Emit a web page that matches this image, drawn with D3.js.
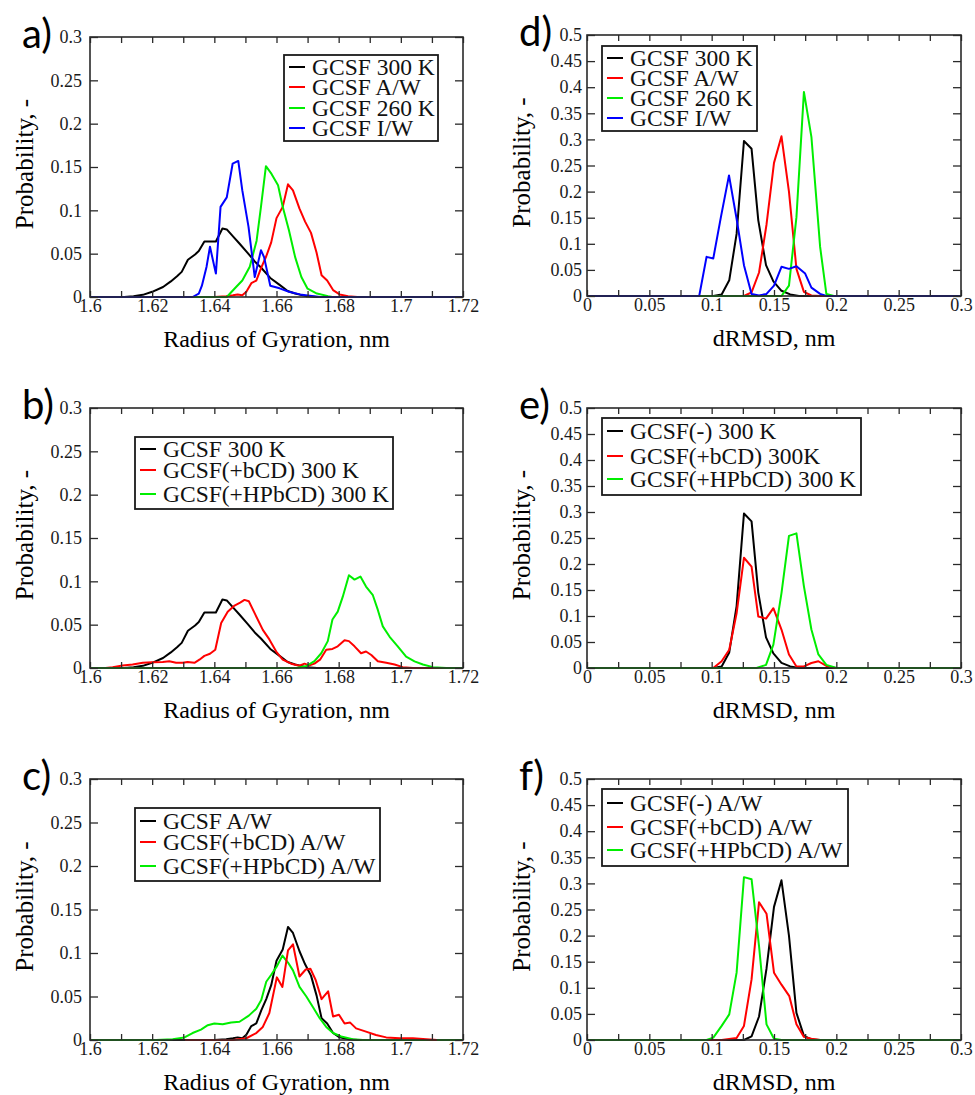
<!DOCTYPE html>
<html>
<head>
<meta charset="utf-8">
<script src="https://cdn.jsdelivr.net/npm/d3@7"></script>
<style>
  body { margin: 0; background: #fff; }
  svg { display: block; }
</style>
</head>
<body>
<svg id="fig" width="975" height="1095"></svg>
<script>
// ---- tick values / labels ----
var rgMajor = [1.6, 1.62, 1.64, 1.66, 1.68, 1.7, 1.72];
var rgMajorLabels = ["1.6", "1.62", "1.64", "1.66", "1.68", "1.7", "1.72"];
var rgMinor = [1.61, 1.63, 1.65, 1.67, 1.69, 1.71];
var rgYTicks = [0, 0.05, 0.1, 0.15, 0.2, 0.25, 0.3];
var rgYLabels = ["0", "0.05", "0.1", "0.15", "0.2", "0.25", "0.3"];

var drMajor = [0, 0.05, 0.1, 0.15, 0.2, 0.25, 0.3];
var drMajorLabels = ["0", "0.05", "0.1", "0.15", "0.2", "0.25", "0.3"];
var drMinor = [0.025, 0.075, 0.125, 0.175, 0.225, 0.275];
var drYTicks = [0, 0.05, 0.1, 0.15, 0.2, 0.25, 0.3, 0.35, 0.4, 0.45, 0.5];
var drYLabels = ["0", "0.05", "0.1", "0.15", "0.2", "0.25", "0.3", "0.35", "0.4", "0.45", "0.5"];

// ---- radius of gyration distributions [nm, probability] ----
var rg300 = [[1.6,0],[1.611,0],[1.614,0.001],[1.617,0.0025],[1.620,0.006],[1.6235,0.0115],[1.626,0.018],[1.628,0.024],[1.6295,0.029],[1.6315,0.043],[1.6338,0.049],[1.635,0.053],[1.6368,0.064],[1.6385,0.064],[1.6405,0.064],[1.6426,0.079],[1.644,0.078],[1.646,0.070],[1.648,0.062],[1.6507,0.051],[1.653,0.041],[1.655,0.034],[1.658,0.022],[1.661,0.014],[1.6636,0.007],[1.666,0.004],[1.6695,0.001],[1.673,0],[1.72,0]];
var rgAW = [[1.6,0],[1.64,0],[1.6438,0.001],[1.646,0.002],[1.6475,0.003],[1.649,0.002],[1.6503,0.006],[1.6519,0.016],[1.6535,0.019],[1.6551,0.034],[1.6567,0.047],[1.6583,0.063],[1.66,0.091],[1.662,0.104],[1.6637,0.13],[1.6653,0.123],[1.6674,0.102],[1.6692,0.087],[1.6711,0.074],[1.6729,0.051],[1.6745,0.025],[1.6763,0.019],[1.6782,0.008],[1.6803,0.003],[1.683,0.001],[1.686,0],[1.72,0]];
var rg260 = [[1.6,0],[1.644,0],[1.647,0.0115],[1.649,0.019],[1.6514,0.035],[1.6536,0.065],[1.655,0.104],[1.6566,0.151],[1.6584,0.142],[1.6605,0.129],[1.662,0.104],[1.664,0.077],[1.666,0.046],[1.668,0.023],[1.670,0.0096],[1.673,0.004],[1.6766,0.001],[1.678,0],[1.72,0]];
var rgIW = [[1.6,0],[1.633,0],[1.635,0.004],[1.636,0.013],[1.6375,0.035],[1.6386,0.058],[1.6405,0.027],[1.642,0.104],[1.644,0.115],[1.6459,0.154],[1.6477,0.157],[1.649,0.123],[1.651,0.081],[1.653,0.023],[1.655,0.054],[1.656,0.046],[1.658,0.013],[1.661,0.01],[1.664,0.006],[1.6675,0.003],[1.672,0.001],[1.674,0],[1.72,0]];
var rgBcd300 = [[1.6,0],[1.605,0],[1.6073,0.001],[1.6105,0.003],[1.6137,0.004],[1.617,0.006],[1.620,0.0065],[1.6234,0.007],[1.6255,0.0077],[1.6277,0.006],[1.6298,0.006],[1.6314,0.007],[1.6336,0.006],[1.6352,0.0096],[1.6368,0.014],[1.6386,0.0165],[1.6403,0.021],[1.6422,0.052],[1.6443,0.065],[1.6465,0.072],[1.6483,0.0755],[1.6497,0.0786],[1.6511,0.077],[1.653,0.063],[1.6556,0.044],[1.6577,0.033],[1.6599,0.019],[1.662,0.0096],[1.6647,0.005],[1.6674,0.0027],[1.669,0.005],[1.6706,0.003],[1.6722,0.005],[1.674,0.0096],[1.676,0.021],[1.678,0.022],[1.6797,0.025],[1.6819,0.032],[1.6833,0.031],[1.6851,0.025],[1.6872,0.017],[1.6888,0.019],[1.6905,0.015],[1.6926,0.0077],[1.6953,0.006],[1.698,0.004],[1.7006,0.001],[1.7039,0],[1.72,0]];
var rgHpbcd300 = [[1.6,0],[1.6663,0],[1.6695,0.002],[1.6722,0.008],[1.6744,0.017],[1.6765,0.031],[1.678,0.056],[1.6797,0.065],[1.6813,0.082],[1.6833,0.107],[1.6851,0.102],[1.687,0.1055],[1.6888,0.094],[1.691,0.084],[1.6926,0.067],[1.6942,0.048],[1.6964,0.036],[1.699,0.025],[1.7017,0.013],[1.7044,0.0077],[1.7071,0.004],[1.7103,0.001],[1.7146,0],[1.72,0]];
var rgBcdAW = [[1.6306,0],[1.646,0],[1.6503,0.002],[1.6535,0.008],[1.6556,0.015],[1.6577,0.031],[1.6601,0.072],[1.6619,0.061],[1.6637,0.103],[1.6653,0.110],[1.6674,0.073],[1.6694,0.081],[1.6709,0.082],[1.6726,0.069],[1.6745,0.047],[1.6766,0.056],[1.6782,0.027],[1.6801,0.029],[1.6819,0.019],[1.6837,0.020],[1.6856,0.0134],[1.6888,0.0096],[1.692,0.0057],[1.6953,0.003],[1.6996,0.002],[1.7039,0.002],[1.7082,0.001],[1.7116,0]];
var rgHpbcdAW = [[1.6,0],[1.6213,0],[1.6266,0.001],[1.6304,0.003],[1.633,0.008],[1.6357,0.012],[1.6379,0.017],[1.64,0.019],[1.6427,0.018],[1.6454,0.020],[1.6481,0.021],[1.6511,0.028],[1.6535,0.036],[1.6551,0.046],[1.6567,0.067],[1.6583,0.075],[1.66,0.084],[1.6619,0.097],[1.6637,0.089],[1.6653,0.080],[1.6674,0.061],[1.6696,0.050],[1.6717,0.038],[1.6739,0.025],[1.676,0.015],[1.6782,0.008],[1.6808,0.004],[1.6845,0.001],[1.6878,0],[1.72,0]];

// ---- dRMSD distributions [nm, probability] ----
var dr300 = [[0,0],[0.1013,0],[0.108,0.003],[0.1141,0.030],[0.120,0.119],[0.1259,0.297],[0.132,0.282],[0.1374,0.145],[0.1436,0.059],[0.1495,0.028],[0.156,0.010],[0.163,0.003],[0.170,0],[0.3,0]];
var drAW = [[0,0],[0.1259,0],[0.132,0.007],[0.138,0.045],[0.144,0.137],[0.150,0.255],[0.156,0.306],[0.162,0.2],[0.168,0.052],[0.174,0.008],[0.180,0.001],[0.187,0],[0.3,0]];
var dr260 = [[0,0],[0.156,0],[0.162,0.020],[0.168,0.151],[0.174,0.391],[0.180,0.305],[0.187,0.094],[0.192,0.004],[0.198,0],[0.3,0]];
var drIW = [[0,0],[0.090,0],[0.0959,0.075],[0.1013,0.072],[0.1074,0.151],[0.1139,0.231],[0.120,0.148],[0.1259,0.059],[0.132,0.004],[0.138,0.001],[0.144,0.004],[0.150,0.020],[0.156,0.056],[0.162,0.052],[0.168,0.057],[0.175,0.043],[0.180,0.016],[0.187,0.004],[0.192,0],[0.3,0]];
var drBcd300 = [[0,0],[0.1013,0],[0.108,0.013],[0.1141,0.035],[0.120,0.105],[0.1259,0.212],[0.132,0.195],[0.1374,0.099],[0.1436,0.095],[0.1495,0.115],[0.156,0.074],[0.162,0.026],[0.168,0.003],[0.174,0.003],[0.180,0.0096],[0.1856,0.013],[0.192,0.004],[0.199,0],[0.3,0]];
var drHpbcd300 = [[0,0],[0.136,0],[0.1436,0.006],[0.1495,0.045],[0.156,0.144],[0.162,0.254],[0.168,0.259],[0.174,0.157],[0.180,0.074],[0.1856,0.026],[0.192,0.006],[0.2003,0],[0.3,0]];
var drBcdAW = [[0,0],[0.108,0],[0.120,0.004],[0.1259,0.027],[0.132,0.116],[0.138,0.264],[0.144,0.242],[0.150,0.129],[0.156,0.106],[0.1623,0.084],[0.168,0.030],[0.174,0.006],[0.180,0.0025],[0.187,0],[0.3,0]];
var drHpbcdAW = [[0,0],[0.0959,0],[0.1013,0.0045],[0.108,0.027],[0.1141,0.049],[0.120,0.129],[0.1259,0.312],[0.132,0.308],[0.138,0.180],[0.144,0.030],[0.150,0.0025],[0.156,0],[0.3,0]];

var BLACK = "#000000", RED = "#ff0000", GREEN = "#00ee00", BLUE = "#0000ff";

// panel layout (left column = Rg, right column = dRMSD)
var panels = [
  {tag: "a)", x0: 90, x1: 463, top: 37, bottom: 297, kind: "rg",
   legend: {x: 284, y: 55, w: 154, h: 86, rows: [67, 87, 108, 128]},
   series: [{d: rg300, c: BLACK, n: "GCSF 300 K"}, {d: rgAW, c: RED, n: "GCSF A/W"},
            {d: rg260, c: GREEN, n: "GCSF 260 K"}, {d: rgIW, c: BLUE, n: "GCSF I/W"}]},
  {tag: "b)", x0: 90, x1: 463, top: 408, bottom: 668, kind: "rg",
   legend: {x: 135, y: 437, w: 258, h: 72, rows: [449, 470, 494]},
   series: [{d: rg300, c: BLACK, n: "GCSF 300 K"}, {d: rgBcd300, c: RED, n: "GCSF(+bCD) 300 K"},
            {d: rgHpbcd300, c: GREEN, n: "GCSF(+HPbCD) 300 K"}]},
  {tag: "c)", x0: 90, x1: 463, top: 779, bottom: 1040, kind: "rg",
   legend: {x: 135, y: 808, w: 245, h: 73, rows: [821, 842, 866]},
   order: [0, 2, 1],
   series: [{d: rgAW, c: BLACK, n: "GCSF A/W"}, {d: rgBcdAW, c: RED, n: "GCSF(+bCD) A/W"},
            {d: rgHpbcdAW, c: GREEN, n: "GCSF(+HPbCD) A/W"}]},
  {tag: "d)", x0: 587, x1: 961, top: 35, bottom: 296, kind: "dr",
   legend: {x: 602, y: 46, w: 155, h: 85, rows: [58, 78, 98, 118]},
   series: [{d: dr300, c: BLACK, n: "GCSF 300 K"}, {d: drAW, c: RED, n: "GCSF A/W"},
            {d: dr260, c: GREEN, n: "GCSF 260 K"}, {d: drIW, c: BLUE, n: "GCSF I/W"}]},
  {tag: "e)", x0: 587, x1: 961, top: 408, bottom: 668, kind: "dr",
   legend: {x: 602, y: 418, w: 259, h: 77, rows: [431, 456, 479]},
   series: [{d: dr300, c: BLACK, n: "GCSF(-) 300 K"}, {d: drBcd300, c: RED, n: "GCSF(+bCD) 300K"},
            {d: drHpbcd300, c: GREEN, n: "GCSF(+HPbCD) 300 K"}]},
  {tag: "f)", x0: 587, x1: 961, top: 779, bottom: 1040, kind: "dr",
   legend: {x: 602, y: 789, w: 246, h: 77, rows: [803, 827, 850]},
   series: [{d: drAW, c: BLACK, n: "GCSF(-) A/W"}, {d: drBcdAW, c: RED, n: "GCSF(+bCD) A/W"},
            {d: drHpbcdAW, c: GREEN, n: "GCSF(+HPbCD) A/W"}]}
];

var svg = d3.select("#fig");
var SERIF = "'Liberation Serif', 'Times New Roman', serif";
var AX = "#2a2a2a";

panels.forEach(function(p) {
  var isRg = p.kind === "rg";
  var x = d3.scaleLinear().domain(isRg ? [1.6, 1.72] : [0, 0.3]).range([p.x0, p.x1]);
  var y = d3.scaleLinear().domain(isRg ? [0, 0.3] : [0, 0.5]).range([p.bottom, p.top]);
  var major = isRg ? rgMajor : drMajor, majorLab = isRg ? rgMajorLabels : drMajorLabels;
  var minor = isRg ? rgMinor : drMinor;
  var yt = isRg ? rgYTicks : drYTicks, ytLab = isRg ? rgYLabels : drYLabels;
  var g = svg.append("g");

  // curves
  var line = d3.line().x(function(d) { return x(d[0]); }).y(function(d) { return y(d[1]); });
  var order = p.order || d3.range(p.series.length);
  order.forEach(function(i) {
    var s = p.series[i];
    g.append("path").datum(s.d).attr("d", line)
      .attr("fill", "none").attr("stroke", s.c).attr("stroke-width", 2)
      .attr("stroke-linejoin", "round");
  });

  // ticks (inside, all four sides)
  function styleAxis(sel) {
    sel.select(".domain").remove();
    sel.selectAll(".tick line").attr("stroke", AX).attr("stroke-width", 1.3);
    sel.selectAll("text").attr("font-family", SERIF).attr("font-size", 18).attr("fill", "#1a1a1a");
  }
  var allX = major.concat(minor);
  g.append("g").attr("transform", "translate(0," + p.bottom + ")")
    .call(d3.axisBottom(x).tickValues(major).tickSize(-6).tickPadding(2)
      .tickFormat(function(d, i) { return majorLab[i]; }))
    .call(styleAxis);
  g.append("g").attr("transform", "translate(0," + p.bottom + ")")
    .call(d3.axisBottom(x).tickValues(minor).tickSize(-6).tickFormat(""))
    .call(styleAxis);
  g.append("g").attr("transform", "translate(0," + p.top + ")")
    .call(d3.axisTop(x).tickValues(allX).tickSize(-6).tickFormat(""))
    .call(styleAxis);
  g.append("g").attr("transform", "translate(" + p.x0 + ",0)")
    .call(d3.axisLeft(y).tickValues(yt).tickSize(-8).tickPadding(isRg ? 8 : 5)
      .tickFormat(function(d, i) { return ytLab[i]; }))
    .call(styleAxis);
  g.append("g").attr("transform", "translate(" + p.x1 + ",0)")
    .call(d3.axisRight(y).tickValues(yt).tickSize(-8).tickFormat(""))
    .call(styleAxis);

  // frame
  g.append("rect").attr("x", p.x0).attr("y", p.top)
    .attr("width", p.x1 - p.x0).attr("height", p.bottom - p.top)
    .attr("fill", "none").attr("stroke", AX).attr("stroke-width", 1.6);

  // axis titles
  g.append("text").attr("x", (p.x0 + p.x1) / 2).attr("y", p.bottom + 50)
    .attr("text-anchor", "middle").attr("font-family", SERIF).attr("font-size", 24)
    .text(isRg ? "Radius of Gyration, nm" : "dRMSD, nm");
  g.append("text")
    .attr("transform", "translate(" + (p.x0 - 66) + "," + ((p.top + p.bottom) / 2 - 3) + ") rotate(-90)")
    .attr("text-anchor", "middle").attr("dy", "0.35em")
    .attr("font-family", SERIF).attr("font-size", 25)
    .text("Probability, -");

  // panel letter
  g.append("text").attr("x", p.x0 - 68).attr("y", p.top + 11)
    .attr("font-family", "Lato, 'Open Sans', sans-serif").attr("font-size", 40)
    .text(p.tag);

  // legend
  var L = p.legend;
  var lg = g.append("g");
  lg.append("rect").attr("x", L.x).attr("y", L.y).attr("width", L.w).attr("height", L.h)
    .attr("fill", "#fff").attr("stroke", "#1a1a1a").attr("stroke-width", 1.8);
  p.series.forEach(function(s, i) {
    var ry = L.rows[i];
    lg.append("line").attr("x1", L.x + 5).attr("x2", L.x + 21).attr("y1", ry).attr("y2", ry)
      .attr("stroke", s.c).attr("stroke-width", 2);
    lg.append("text").attr("x", L.x + 28).attr("y", ry).attr("dy", "0.34em")
      .attr("font-family", SERIF).attr("font-size", 23.5).attr("fill", "#111")
      .text(s.n);
  });
});
</script>
</body>
</html>
